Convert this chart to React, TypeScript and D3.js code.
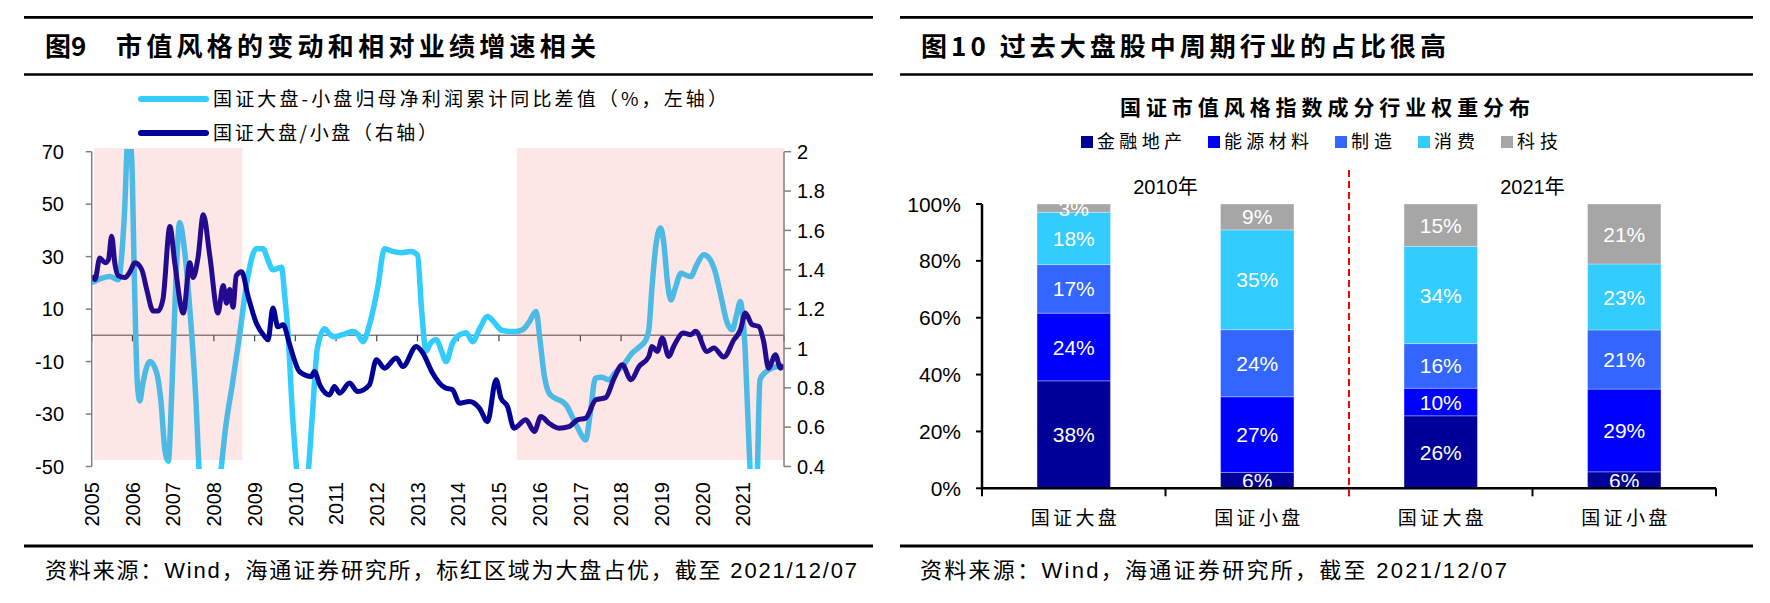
import React from 'react';
import * as d3 from 'd3';

const W = 1770;
const H = 603;
const FONT_CJK = "'Noto Sans CJK SC', 'Noto Sans CJK JP', sans-serif";
const FONT_NUM = "'Liberation Sans', Arial, 'Noto Sans CJK SC', sans-serif";

// ---------- 图9 data ----------
const yearLabels = ['2005', '2006', '2007', '2008', '2009', '2010', '2011', '2012', '2013',
  '2014', '2015', '2016', '2017', '2018', '2019', '2020', '2021'];
const leftTicks = [70, 50, 30, 10, -10, -30, -50];
const rightTicks = [2, 1.8, 1.6, 1.4, 1.2, 1, 0.8, 0.6, 0.4];
// periods where large caps outperformed (shaded red)
const largeCapPeriods: [number, number][] = [[2005.06, 2008.7], [2015.44, 2022]];

// 国证大盘-小盘归母净利润累计同比差值 (%, left axis) [year, value]
const profitGap: [number, number][] = [
  [2005.0, 20], [2005.2, 21.5], [2005.45, 22.4], [2005.65, 21.2], [2005.8, 45], [2005.9, 78],
  [2005.98, 68], [2006.05, 20], [2006.12, -18], [2006.18, -25], [2006.26, -18], [2006.43, -10],
  [2006.59, -14], [2006.7, -25], [2006.8, -44], [2006.88, -48], [2006.97, -20], [2007.07, 22],
  [2007.16, 43], [2007.26, 35], [2007.41, 10], [2007.56, -25], [2007.65, -55], [2007.77, -70],
  [2008.0, -75], [2008.15, -55], [2008.29, -35], [2008.46, -18], [2008.63, 0], [2008.83, 22],
  [2009.04, 33], [2009.21, 33], [2009.32, 29], [2009.45, 25], [2009.66, 26], [2009.74, 15],
  [2009.82, 1], [2009.93, -30], [2010.06, -55], [2010.18, -65], [2010.3, -55], [2010.42, -30],
  [2010.54, -5], [2010.72, 2.5], [2010.84, 0.5], [2010.96, -0.5], [2011.21, 0.5], [2011.41, 1.5],
  [2011.53, 0.5], [2011.66, -2.4], [2011.82, 4], [2012.02, 18], [2012.19, 33], [2012.39, 32],
  [2012.61, 31.5], [2012.84, 32], [2013.0, 30.7], [2013.1, 10], [2013.21, -6], [2013.32, -3],
  [2013.46, -1.7], [2013.59, -6], [2013.7, -10], [2013.86, -3], [2014.03, 0.2], [2014.2, 1],
  [2014.35, -2.4], [2014.54, 3], [2014.72, 7.2], [2014.88, 5], [2015.06, 2], [2015.25, 1.5],
  [2015.42, 1.5], [2015.58, 2.1], [2015.74, 5], [2015.91, 9.1], [2016.01, -2], [2016.11, -15],
  [2016.23, -22], [2016.38, -24], [2016.56, -25.3], [2016.67, -27], [2016.8, -31], [2016.96, -36],
  [2017.13, -39.9], [2017.24, -30], [2017.37, -16.3], [2017.53, -16], [2017.7, -17], [2017.87, -14],
  [2018.03, -11.9], [2018.27, -6.8], [2018.44, -4.5], [2018.6, -2], [2018.68, 2.1], [2018.76, 18.6],
  [2018.86, 35], [2018.97, 40.9], [2019.05, 35], [2019.14, 20], [2019.22, 13.5], [2019.33, 18],
  [2019.47, 23.7], [2019.58, 23], [2019.71, 22.4], [2019.86, 27], [2020.03, 30.7], [2020.18, 29],
  [2020.32, 23.7], [2020.45, 15], [2020.6, 5], [2020.73, 2.1], [2020.84, 8], [2020.93, 12.9],
  [2020.98, 8], [2021.05, -6.8], [2021.11, -30], [2021.18, -55], [2021.26, -70], [2021.33, -60],
  [2021.41, -17], [2021.55, -14], [2021.71, -12.5], [2021.95, -11.3],
];

// 国证大盘/小盘 (right axis) [year, value]
const sizeRatio: [number, number][] = [
  [2005.0, 1.37], [2005.08, 1.35], [2005.2, 1.46], [2005.33, 1.435], [2005.41, 1.45], [2005.49, 1.57],
  [2005.57, 1.43], [2005.65, 1.37], [2005.82, 1.36], [2005.94, 1.39], [2006.06, 1.435], [2006.23, 1.4],
  [2006.35, 1.3], [2006.51, 1.19], [2006.63, 1.19], [2006.75, 1.25], [2006.92, 1.62], [2007.04, 1.435],
  [2007.25, 1.18], [2007.41, 1.435], [2007.49, 1.36], [2007.61, 1.46], [2007.74, 1.68], [2007.9, 1.47],
  [2008.1, 1.18], [2008.23, 1.32], [2008.31, 1.23], [2008.39, 1.3], [2008.47, 1.21], [2008.55, 1.37],
  [2008.68, 1.39], [2008.84, 1.265], [2009.04, 1.13], [2009.25, 1.06], [2009.33, 1.044], [2009.45, 1.206],
  [2009.57, 1.11], [2009.7, 1.12], [2009.86, 1.02], [2009.98, 0.94], [2010.1, 0.883], [2010.39, 0.858],
  [2010.47, 0.883], [2010.6, 0.815], [2010.84, 0.764], [2010.96, 0.807], [2011.09, 0.773], [2011.33, 0.824],
  [2011.53, 0.781], [2011.82, 0.815], [2011.99, 0.943], [2012.19, 0.9], [2012.48, 0.951], [2012.64, 0.908],
  [2012.97, 1.01], [2013.13, 0.977], [2013.37, 0.875], [2013.54, 0.824], [2013.68, 0.8], [2013.86, 0.79],
  [2014.03, 0.722], [2014.27, 0.73], [2014.52, 0.697], [2014.72, 0.628], [2014.93, 0.841], [2015.05, 0.748],
  [2015.21, 0.705], [2015.37, 0.595], [2015.66, 0.637], [2015.87, 0.578], [2016.03, 0.654], [2016.23, 0.62],
  [2016.47, 0.595], [2016.72, 0.603], [2016.93, 0.637], [2017.13, 0.646], [2017.38, 0.739], [2017.62, 0.75],
  [2017.83, 0.849], [2018.03, 0.917], [2018.24, 0.841], [2018.44, 0.908], [2018.68, 0.959], [2018.76, 1.01],
  [2018.89, 0.985], [2019.01, 1.053], [2019.17, 0.959], [2019.29, 1.01], [2019.53, 1.078], [2019.71, 1.07],
  [2019.83, 1.087], [2020.11, 0.985], [2020.28, 1.002], [2020.52, 0.956], [2020.77, 1.044], [2020.93, 1.095],
  [2021.05, 1.18], [2021.22, 1.12], [2021.38, 1.112], [2021.5, 1.036], [2021.62, 0.9], [2021.79, 0.968],
  [2021.91, 0.9], [2021.99, 0.917],
];

// ---------- 图10 data ----------
const barCategories = ['国证大盘', '国证小盘', '国证大盘', '国证小盘'];
const barYears = ['2010年', '2021年'];
const sectors = ['金融地产', '能源材料', '制造', '消费', '科技'];
const finance = [37.8, 5.6, 25.5, 5.8];
const energy = [23.8, 26.6, 9.7, 29.1];
const manufacturing = [17.1, 23.6, 15.7, 20.8];
const consumer = [18.4, 35.1, 34.2, 23.2];
const tech = [2.9, 9.1, 14.9, 21.1];
const barTicks = [0, 20, 40, 60, 80, 100];

const sectorColors = ['#000099', '#0000FF', '#3366FF', '#33CCFF', '#A6A6A6'];

function Fig9() {
  const x = d3.scaleLinear().domain([2005, 2022]).range([91.7, 784]);
  const yL = d3.scaleLinear().domain([-50, 70]).range([466.5, 151.7]);
  const yR = d3.scaleLinear().domain([0.4, 2]).range([466.5, 151.7]);

  const lineL = d3.line<[number, number]>()
    .x(d => x(d[0])).y(d => yL(d[1])).curve(d3.curveMonotoneX);
  const lineR = d3.line<[number, number]>()
    .x(d => x(d[0])).y(d => yR(d[1])).curve(d3.curveMonotoneX);

  const [x0, x1] = x.range();
  const axisGray = '#808080';

  return (
    <g>
      <defs>
        <clipPath id="plot9">
          <rect x={x0} y={149} width={x1 - x0} height={320} />
        </clipPath>
      </defs>

      {/* legend */}
      <line x1={141} x2={206} y1={99} y2={99} stroke="#33CCFF" strokeWidth={6} strokeLinecap="round" />
      <text x={213} y={99} dy="0.36em" fontFamily={FONT_CJK} fontSize={19} textLength={514} lengthAdjust="spacing">
        国证大盘-小盘归母净利润累计同比差值（%，左轴）
      </text>
      <line x1={141} x2={206} y1={133} y2={133} stroke="#000099" strokeWidth={6} strokeLinecap="round" />
      <text x={213} y={133} dy="0.36em" fontFamily={FONT_CJK} fontSize={19} textLength={224} lengthAdjust="spacing">
        国证大盘/小盘（右轴）
      </text>

      {/* zero line and x ticks */}
      <line x1={x0} x2={x1} y1={yL(0)} y2={yL(0)} stroke={axisGray} strokeWidth={1.5} />
      {d3.range(2005, 2023).map(yr => (
        <line key={yr} x1={x(yr)} x2={x(yr)} y1={yL(0)} y2={yL(0) + 6} stroke="#444" strokeWidth={1.2} />
      ))}

      <g clipPath="url(#plot9)">
        <path d={lineL(profitGap) ?? ''} fill="none" stroke="#33CCFF" strokeWidth={5.5} strokeLinejoin="round" />
        <path d={lineR(sizeRatio) ?? ''} fill="none" stroke="#000099" strokeWidth={5} strokeLinejoin="round" />
      </g>

      {/* shaded periods on top, translucent */}
      {largeCapPeriods.map(([a, b], i) => (
        <rect key={i} x={x(a)} y={148} width={x(b) - x(a)} height={312}
          fill="rgb(240,80,80)" fillOpacity={0.14} />
      ))}

      {/* left axis */}
      <line x1={x0} x2={x0} y1={yL(70)} y2={yL(-50)} stroke={axisGray} strokeWidth={1.5} />
      {leftTicks.map(v => (
        <g key={v}>
          <line x1={x0 - 6} x2={x0} y1={yL(v)} y2={yL(v)} stroke={axisGray} strokeWidth={1.5} />
          <text x={64} y={yL(v)} dy="0.36em" textAnchor="end" fontFamily={FONT_NUM} fontSize={20}>{v}</text>
        </g>
      ))}

      {/* right axis */}
      <line x1={x1} x2={x1} y1={yR(2)} y2={yR(0.4)} stroke={axisGray} strokeWidth={1.5} />
      {rightTicks.map(v => (
        <g key={v}>
          <line x1={x1} x2={x1 + 7} y1={yR(v)} y2={yR(v)} stroke={axisGray} strokeWidth={1.5} />
          <text x={797} y={yR(v)} dy="0.36em" fontFamily={FONT_NUM} fontSize={20}>{v}</text>
        </g>
      ))}

      {/* x labels, rotated */}
      {yearLabels.map(lbl => (
        <text key={lbl} transform={`translate(${x(+lbl)},482) rotate(-90)`} dy="0.36em"
          textAnchor="end" fontFamily={FONT_NUM} fontSize={20}>{lbl}</text>
      ))}
    </g>
  );
}

function Fig10() {
  const xb = d3.scaleBand<number>().domain(d3.range(barCategories.length))
    .range([982, 1716]).paddingInner(0.6).paddingOuter(0.3);
  const yb = d3.scaleLinear().domain([0, 100]).range([488.3, 204]);
  const bw = xb.bandwidth();
  const step = xb.step();
  const [r0, r1] = xb.range();

  const sectorValues = [finance, energy, manufacturing, consumer, tech];
  const rows = barCategories.map((_, i) => {
    const row: Record<string, number> = {};
    sectors.forEach((s, k) => { row[s] = sectorValues[k][i]; });
    return row;
  });
  const stacked = d3.stack<Record<string, number>>().keys(sectors)(rows);

  // legend layout
  const legendStart = 1081;
  const charW = 22;
  let lx = legendStart;
  const legendItems = sectors.map((s, i) => {
    const item = { s, i, x: lx, w: s.length * charW - 3 };
    lx += 16 + item.w + 26;
    return item;
  });

  return (
    <g>
      <defs>
        <clipPath id="plot10">
          <rect x={r0} y={yb(100)} width={r1 - r0} height={yb(0) - yb(100) + 2} />
        </clipPath>
      </defs>

      <text x={1325} y={107} dy="0.36em" textAnchor="middle" fontFamily={FONT_CJK} fontWeight="bold"
        fontSize={21} textLength={410} lengthAdjust="spacing">国证市值风格指数成分行业权重分布</text>

      {legendItems.map(it => (
        <g key={it.s}>
          <rect x={it.x} y={136} width={12} height={12} fill={sectorColors[it.i]} />
          <text x={it.x + 16} y={142} dy="0.36em" fontFamily={FONT_CJK} fontSize={18}
            textLength={it.w} lengthAdjust="spacing">{it.s}</text>
        </g>
      ))}

      {/* bars */}
      {stacked.map((series, k) => (
        <g key={series.key}>
          {series.map((d, i) => (
            <rect key={i} x={xb(i)} y={yb(d[1])} width={bw} height={yb(d[0]) - yb(d[1])}
              fill={sectorColors[k]} stroke="rgba(255,255,255,0.3)" strokeWidth={1} />
          ))}
        </g>
      ))}
      <g clipPath="url(#plot10)">
        {stacked.map(series => series.map((d, i) => (
          <text key={series.key + i} x={(xb(i) ?? 0) + bw / 2} y={(yb(d[0]) + yb(d[1])) / 2} dy="0.36em"
            textAnchor="middle" fill="#fff" fontFamily={FONT_NUM} fontSize={21}>
            {Math.round(d[1] - d[0])}%
          </text>
        )))}
      </g>

      {/* y axis */}
      <line x1={r0} x2={r0} y1={yb(100)} y2={yb(0) + 1} stroke="#000" strokeWidth={2.5} />
      {barTicks.map(v => (
        <g key={v}>
          <line x1={r0 - 6} x2={r0} y1={yb(v)} y2={yb(v)} stroke="#000" strokeWidth={2} />
          <text x={961} y={yb(v)} dy="0.36em" textAnchor="end" fontFamily={FONT_NUM} fontSize={21}>{v}%</text>
        </g>
      ))}

      {/* x axis */}
      <line x1={r0 - 1} x2={r1} y1={yb(0)} y2={yb(0)} stroke="#000" strokeWidth={2.5} />
      {d3.range(barCategories.length + 1).map(i => (
        <line key={i} x1={r0 + i * step} x2={r0 + i * step} y1={yb(0)} y2={yb(0) + 8} stroke="#000" strokeWidth={2} />
      ))}
      {barCategories.map((c, i) => (
        <text key={i} x={(xb(i) ?? 0) + bw / 2} y={518} dy="0.36em" textAnchor="middle"
          fontFamily={FONT_CJK} fontSize={19} textLength={86} lengthAdjust="spacing">{c}</text>
      ))}

      {/* period divider and year labels */}
      <line x1={r0 + 2 * step} x2={r0 + 2 * step} y1={170} y2={496} stroke="#FF0000" strokeWidth={2}
        strokeDasharray="7,4" />
      {barYears.map((yr, g) => (
        <text key={yr} x={((xb(g * 2) ?? 0) + (xb(g * 2 + 1) ?? 0) + bw) / 2} y={187} dy="0.36em"
          textAnchor="middle" fontFamily={FONT_NUM} fontSize={20}>{yr}</text>
      ))}
    </g>
  );
}

function Frame() {
  const rule = (x1: number, x2: number, y: number, w = 2.7) => (
    <line x1={x1} x2={x2} y1={y} y2={y} stroke="#000" strokeWidth={w} />
  );
  return (
    <g>
      {rule(24, 873, 17.3)}
      {rule(24, 873, 74.5)}
      {rule(24, 873, 546, 3)}
      {rule(900, 1753, 17.3)}
      {rule(900, 1753, 74.5)}
      {rule(900, 1753, 546, 3)}

      <text x={45} y={47} dy="0.36em" fontFamily={FONT_CJK} fontWeight="bold" fontSize={26}>图9</text>
      <text x={116} y={47} dy="0.36em" fontFamily={FONT_CJK} fontWeight="bold" fontSize={26}
        textLength={480} lengthAdjust="spacing">市值风格的变动和相对业绩增速相关</text>
      <text x={921} y={47} dy="0.36em" fontFamily={FONT_CJK} fontWeight="bold" fontSize={26}
        textLength={525} lengthAdjust="spacing">图10 过去大盘股中周期行业的占比很高</text>

      <text x={45} y={570} dy="0.36em" fontFamily={FONT_NUM} fontSize={22}
        textLength={812} lengthAdjust="spacing">资料来源：Wind，海通证券研究所，标红区域为大盘占优，截至 2021/12/07</text>
      <text x={920} y={570} dy="0.36em" fontFamily={FONT_NUM} fontSize={22}
        textLength={587} lengthAdjust="spacing">资料来源：Wind，海通证券研究所，截至 2021/12/07</text>
    </g>
  );
}

export default function App() {
  return (
    <div style={{ position: 'absolute', left: 0, top: 0, background: '#fff' }}>
      <svg width={W} height={H} style={{ display: 'block' }}>
        <rect width={W} height={H} fill="#fff" />
        <Frame />
        <Fig9 />
        <Fig10 />
      </svg>
    </div>
  );
}
